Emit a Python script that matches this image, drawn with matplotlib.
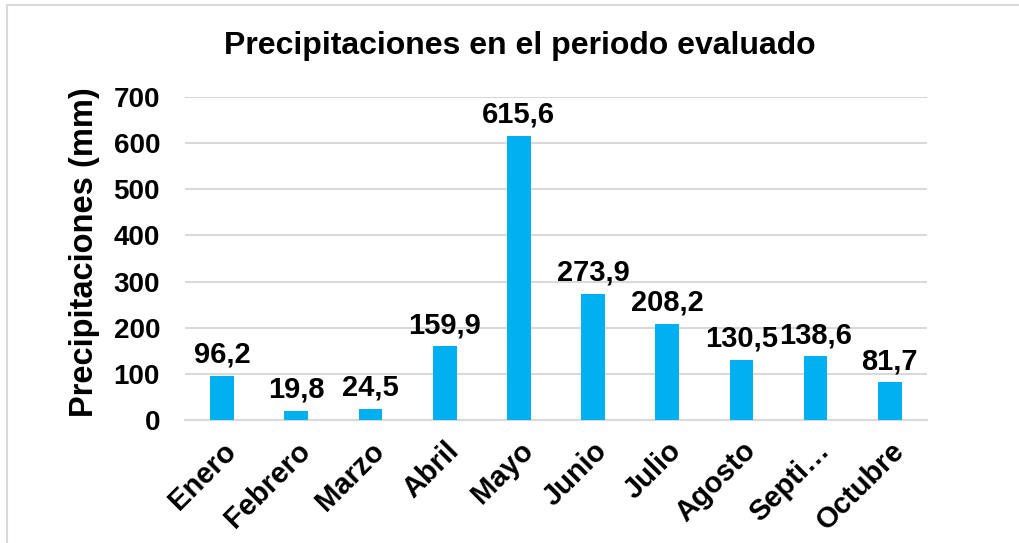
import matplotlib.pyplot as plt
import matplotlib.transforms as mtransforms
from matplotlib.patches import Rectangle

plt.rcParams['font.family'] = ['Liberation Sans', 'DejaVu Sans']
plt.rcParams['font.weight'] = 'bold'

meses = ['Enero', 'Febrero', 'Marzo', 'Abril', 'Mayo', 'Junio', 'Julio',
         'Agosto', 'Septi…', 'Octubre']
precip = [96.2, 19.8, 24.5, 159.9, 615.6, 273.9, 208.2, 130.5, 138.6, 81.7]
yticks = [0, 100, 200, 300, 400, 500, 600, 700]

fig = plt.figure(figsize=(10.19, 5.43), dpi=100)
ax = fig.add_axes([0.1816, 0.2265, 0.728, 0.5949])

x = range(len(meses))
bars = ax.bar(x, precip, width=0.32, color='#00B0F0', zorder=3)

# etiquetas de datos con coma decimal
for b, v in zip(bars, precip):
    ax.annotate(f'{v:.1f}'.replace('.', ','), (b.get_x() + b.get_width() / 2, v),
                xytext=(0, 5), textcoords='offset points', ha='center', va='bottom',
                fontsize=21, fontweight='bold')

ax.set_xlim(-0.5, len(meses) - 0.5)
ax.set_ylim(0, 700)
ax.set_yticks(yticks)
ax.set_yticklabels([str(t) for t in yticks], fontsize=20, fontweight='bold')
ax.set_xticks(list(x))
ax.set_xticklabels(meses, fontsize=21, fontweight='bold', rotation=45,
                   ha='right', rotation_mode='anchor')
shift = mtransforms.ScaledTranslation(-12 / 100, -3 / 100, fig.dpi_scale_trans)
for lbl in ax.get_xticklabels():
    lbl.set_transform(lbl.get_transform() + shift)
ax.tick_params(axis='both', length=0)
ax.tick_params(axis='y', pad=18)
ax.tick_params(axis='x', pad=12)
ax.grid(axis='y', color='#D9D9D9', linewidth=1.5, zorder=0)
for s in ['top', 'right', 'left']:
    ax.spines[s].set_visible(False)
ax.spines['bottom'].set_color('#D9D9D9')
ax.spines['bottom'].set_linewidth(1.5)

fig.text(0.083, 0.535, 'Precipitaciones (mm)', rotation=90, ha='center', va='center',
         fontsize=23.5, fontweight='bold')
fig.text(0.51, 0.915, 'Precipitaciones en el periodo evaluado', ha='center', va='center',
         fontsize=23, fontweight='bold')

fig.patches.append(Rectangle((0.007, -0.01), 1.0, 1.0 - 0.009 + 0.01, transform=fig.transFigure,
                             fill=False, edgecolor='#D9D9D9', linewidth=1.5))

fig.savefig('out.png', dpi=100)
